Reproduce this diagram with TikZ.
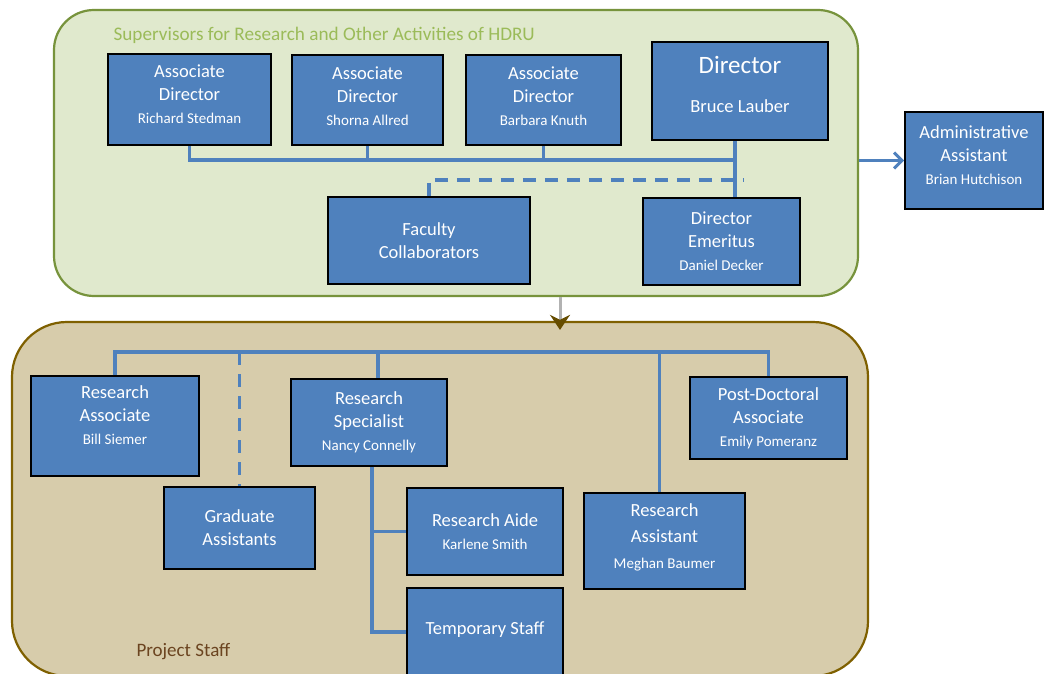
\documentclass[tikz,border=0pt]{standalone}
\usepackage{fontspec}
\setmainfont{Carlito}
\usepackage{xcolor}
\usetikzlibrary{arrows.meta}

\definecolor{boxblue}{HTML}{4F81BD}
\definecolor{supfill}{HTML}{E0E9CD}
\definecolor{supline}{HTML}{77933C}
\definecolor{suptext}{HTML}{9BBB59}
\definecolor{stafffill}{HTML}{D7CCAB}
\definecolor{staffline}{HTML}{7F6000}
\definecolor{stafftext}{HTML}{6B4420}

\newcommand{\pname}[1]{{\fontsize{15}{17}\selectfont #1}}

\tikzset{
  box/.style={draw=black, line width=1.6pt, fill=boxblue, text=white,
    align=center, inner sep=2pt, font=\fontsize{18.5}{23}\selectfont},
  conn/.style={draw=boxblue, line width=3.5pt},
  group/.style={line width=2.2pt, rounded corners=#1},
}

\begin{document}
\begin{tikzpicture}[x=1pt,y=-1pt]
\clip (0,0) rectangle (1045,674);
\fill[white] (0,0) rectangle (1045,674);

    % the two groups
    \node[group=40pt, draw=supline, fill=supfill, minimum width=804pt, minimum height=286pt] (sup) at (456,153) {};
    \node[group=55pt, draw=staffline, fill=stafffill, minimum width=856pt, minimum height=354pt] (staff) at (440,499) {};
    \node[text=suptext, font=\fontsize{19.2}{21}\selectfont, anchor=west] (suptitle) at (110,35) {Supervisors for Research and Other Activities of HDRU};
    \node[text=stafftext, font=\fontsize{19}{21}\selectfont, anchor=west] (stafftitle) at (133,652) {Project Staff};

    % supervisors
    \node[box, minimum width=163pt, minimum height=91pt, text depth=10pt] (ad1) at (189.5,99.5) {Associate\\Director\\\pname{Richard Stedman}};
    \node[box, minimum width=151pt, minimum height=90pt, text depth=8pt] (ad2) at (367.5,100) {Associate\\Director\\\pname{Shorna Allred}};
    \node[box, minimum width=155pt, minimum height=90pt, text depth=8pt] (ad3) at (543.5,100) {Associate\\Director\\\pname{Barbara Knuth}};
    \node[box, minimum width=176pt, minimum height=98pt, font=\fontsize{18.5}{39}\selectfont, text depth=14pt] (dir) at (740,91) {{\fontsize{25}{28}\selectfont Director}\\Bruce Lauber};
    \node[box, minimum width=202pt, minimum height=87pt] (fac) at (429,240.5) {Faculty\\Collaborators};
    \node[box, minimum width=157pt, minimum height=87pt] (emer) at (721.5,241.5) {Director\\Emeritus\\\pname{Daniel Decker}};
    \node[box, minimum width=138pt, minimum height=97pt, text depth=10pt] (adm) at (974,160.5) {Administrative\\Assistant\\\pname{Brian Hutchison}};

    % project staff
    \node[box, minimum width=168pt, minimum height=100pt, text depth=22pt] (ra) at (115,426) {Research\\Associate\\\pname{Bill Siemer}};
    \node[box, minimum width=151pt, minimum height=82pt] (grad) at (239.5,528) {Graduate\\Assistants};
    \node[box, minimum width=156pt, minimum height=87pt] (spec) at (369,422.5) {Research\\Specialist\\\pname{Nancy Connelly}};
    \node[box, minimum width=156pt, minimum height=87pt] (aide) at (485,531.5) {Research Aide\\\pname{Karlene Smith}};
    \node[box, minimum width=156pt, minimum height=88pt, text depth=8pt] (temp) at (485,632) {Temporary Staff};
    \node[box, minimum width=161pt, minimum height=96pt, font=\fontsize{18.5}{26}\selectfont, text depth=10pt] (rast) at (664.5,541) {Research\\Assistant\\\pname{Meghan Baumer}};
    \node[box, minimum width=157pt, minimum height=82pt] (pd) at (768.5,418) {Post-Doctoral\\Associate\\\pname{Emily Pomeranz}};

    \coordinate (bus1) at (735,160);
    \coordinate (bus2) at (0,352);

    \draw[conn] (ad1.south) |- (bus1);
    \draw[conn] (ad2.south) -- (ad2.south |- bus1);
    \draw[conn] (ad3.south) -- (ad3.south |- bus1);
    \draw[conn] (bus1 |- dir.south) -- (bus1 |- emer.north);
    \draw[conn, dash pattern=on 13pt off 9pt] (fac.north) |- (743,180);

    \draw[conn] (ra.north) -- (ra.north |- bus2) -- (pd.north |- bus2) -- (pd.north);
    \draw[conn, dash pattern=on 13pt off 9pt] (grad.north |- bus2) -- (grad.north);
    \draw[conn] ([xshift=9pt]spec.north |- bus2) -- ([xshift=9pt]spec.north);
    \draw[conn] ([xshift=-5pt]rast.north |- bus2) -- ([xshift=-5pt]rast.north);
    \draw[conn] ([xshift=3pt]spec.south) |- (aide.west);
    \draw[conn] ([xshift=3pt]spec.south) |- (temp.west);

    \draw[conn, -{Straight Barb[length=8pt,width=16pt,line width=3pt]}] (sup.east |- adm.west) -- (adm.west);
    \draw[draw=gray!60, line width=3pt, shorten >=-9pt, -{Stealth[length=15pt,width=20pt,color=staffline!80!black]}] ([xshift=104pt]sup.south) -- ([xshift=104pt]sup.south |- staff.north);

\end{tikzpicture}
\end{document}
